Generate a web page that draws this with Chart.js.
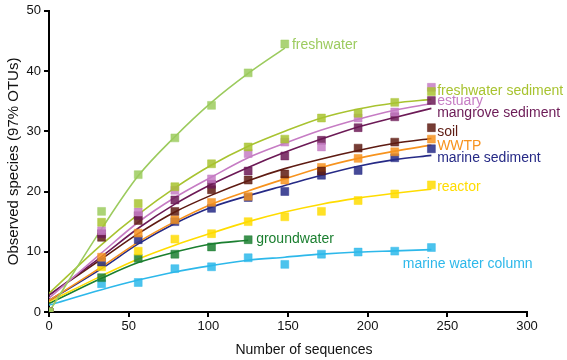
<!DOCTYPE html>
<html>
<head>
<meta charset="utf-8">
<script src="https://cdn.jsdelivr.net/npm/chart.js@4/dist/chart.umd.min.js"></script>
<style>
  html, body { margin: 0; padding: 0; background: #ffffff; }
  #wrap { width: 567px; height: 360px; position: relative; }
</style>
</head>
<body>
<div id="wrap"><canvas id="c" width="567" height="360"></canvas></div>
<script>
// ---- data ----
const sampleSizes = [0, 33, 56, 79, 102, 125, 148, 171, 194, 217, 240];

const seriesNames = ['freshwater', 'freshwater sediment', 'estuary', 'mangrove sediment', 'soil',
                     'WWTP', 'marine sediment', 'reactor', 'groundwater', 'marine water column'];

const freshwater          = [0, 16.7, 22.8, 28.9, 34.3, 39.7, 44.5];
const freshwaterSediment  = [0, 14.9, 18.0, 20.8, 24.6, 27.4, 28.7, 32.2, 33.0, 34.8, 36.6];
const estuary             = [0, 13.5, 16.6, 20.2, 22.1, 26.3, 28.2, 27.4, 32.2, 33.2, 37.3];
const mangroveSediment    = [0, 13.0, 16.0, 18.6, 21.2, 23.4, 25.9, 28.5, 30.6, 32.4, 35.1];
const soil                = [0, 12.4, 15.2, 16.7, 20.3, 21.9, 22.9, 23.4, 27.2, 28.2, 30.6];
const wwtp                = [0, 9.1, 13.1, 15.3, 18.2, 19.2, 21.9, 24.0, 25.5, 26.6, 28.7];
const marineSediment      = [0, 8.3, 12.0, 15.0, 17.2, 19.0, 20.0, 22.7, 23.5, 25.6, 27.1];
const reactor             = [0, 7.5, 10.1, 12.1, 13.0, 15.0, 15.8, 16.7, 18.5, 19.6, 21.1];
const groundwater         = [0, 5.7, 8.9, 9.6, 10.8, 12.0];
const marineWaterColumn   = [0, 4.7, 4.9, 7.2, 7.5, 9.0, 7.9, 9.6, 9.95, 10.1, 10.7];

// fitted rarefaction curves at the same sample sizes
const freshwaterFit          = [0, 13.8, 22.6, 29.1, 34.8, 39.6, 43.8];
const freshwaterSedimentFit  = [3.1, 11.2, 16.2, 20.6, 24.4, 27.5, 30.0, 32.2, 33.7, 34.7, 35.3];
const estuaryFit             = [2.3, 9.8, 14.9, 19.0, 22.4, 25.6, 28.0, 30.2, 32.0, 33.5, 34.6];
const mangroveSedimentFit    = [2.8, 9.2, 13.9, 17.9, 21.2, 24.0, 26.5, 28.7, 30.7, 32.3, 33.8];
const soilFit                = [2.8, 8.8, 13.0, 16.6, 19.4, 21.8, 23.8, 25.4, 26.8, 28.0, 28.8];
const wwtpFit                = [1.9, 7.5, 11.6, 15.0, 17.9, 20.1, 22.1, 24.0, 25.5, 26.7, 27.7];
const marineSedimentFit      = [1.9, 7.2, 11.3, 14.7, 17.4, 19.3, 21.0, 22.7, 24.2, 25.3, 26.0];
const reactorFit             = [1.7, 6.0, 8.8, 11.1, 13.1, 15.0, 16.6, 17.9, 18.9, 19.7, 20.4];
const groundwaterFit         = [1.4, 5.6, 8.2, 9.95, 11.3, 11.9];
const marineWaterColumnFit   = [1.15, 3.7, 5.3, 6.65, 7.7, 8.6, 9.1, 9.6, 9.95, 10.15, 10.35];

const xTicks = [0, 50, 100, 150, 200, 250, 300];
const yTicks = [0, 10, 20, 30, 40, 50];

const xTitle = 'Number of sequences';
const yTitle = 'Observed species (97% OTUs)';

// label anchor points (data coordinates) for the in-plot series names
const labelX = [152.5, 243.6, 243.6, 243.6, 243.6, 243.6, 243.6, 243.6, 130, 222];
const labelY = [44.3, 36.7, 35.0, 33.05, 29.9, 27.6, 25.6, 20.7, 12.05, 8.0];
const xTitleAnchor = 160; // data x where the axis title is centred in the reference

// ---- styling ----
const colors = ['#9ccb5e', '#a8c330', '#c67cc4', '#6c1a56', '#5e1b12',
                '#f7931e', '#262a86', '#ffdc00', '#1b7f30', '#2db8ea'];
const observed = [freshwater, freshwaterSediment, estuary, mangroveSediment, soil,
                  wwtp, marineSediment, reactor, groundwater, marineWaterColumn];
const fitted = [freshwaterFit, freshwaterSedimentFit, estuaryFit, mangroveSedimentFit, soilFit,
                wwtpFit, marineSedimentFit, reactorFit, groundwaterFit, marineWaterColumnFit];

function toPoints(vals) { return vals.map((v, i) => ({ x: sampleSizes[i], y: v })); }
function alpha(hex, a) {
  const n = parseInt(hex.slice(1), 16);
  return `rgba(${(n >> 16) & 255},${(n >> 8) & 255},${n & 255},${a})`;
}

const datasets = [];
seriesNames.forEach((name, i) => {
  datasets.push({
    type: 'scatter', label: name + ' (observed)', data: toPoints(observed[i]),
    pointStyle: 'rect', pointRadius: 5.6, backgroundColor: alpha(colors[i], 0.85),
    borderColor: alpha(colors[i], 0.9), borderWidth: 0.5, showLine: false, order: 1
  });
  datasets.push({
    type: 'line', label: name + ' (fit)', data: toPoints(fitted[i]),
    borderColor: colors[i], borderWidth: 1.6, pointRadius: 0, fill: false,
    cubicInterpolationMode: 'monotone', order: 2
  });
});

const FONT = '"Liberation Sans", Arial, sans-serif';

const labelPlugin = {
  id: 'seriesLabels',
  afterDatasetsDraw(chart) {
    const { ctx, scales } = chart;
    ctx.save();
    ctx.font = '14px ' + FONT;
    ctx.textAlign = 'left';
    ctx.textBaseline = 'middle';
    seriesNames.forEach((name, i) => {
      ctx.fillStyle = colors[i];
      ctx.fillText(name, scales.x.getPixelForValue(labelX[i]), scales.y.getPixelForValue(labelY[i]));
    });
    // x axis title
    ctx.fillStyle = '#111';
    ctx.textAlign = 'center';
    ctx.fillText(xTitle, scales.x.getPixelForValue(xTitleAnchor), scales.x.bottom - 10);
    ctx.restore();
  }
};

const tickFont = { family: FONT, size: 13 };

new Chart(document.getElementById('c'), {
  data: { datasets },
  options: {
    responsive: false,
    animation: false,
    layout: { padding: { left: 5, right: 40, top: 9, bottom: 0 } },
    plugins: { legend: { display: false }, tooltip: { enabled: false } },
    scales: {
      x: {
        type: 'linear', min: 0, max: 300,
        afterBuildTicks: s => { s.ticks = xTicks.map(v => ({ value: v })); },
        afterFit: s => { s.height = 48; },
        border: { display: true, color: '#000', width: 2 },
        grid: { display: true, drawOnChartArea: false, drawTicks: true, tickLength: 5, color: '#000', lineWidth: 2 },
        ticks: { color: '#111', font: tickFont, padding: 2, maxRotation: 0 },
        title: { display: false }
      },
      y: {
        type: 'linear', min: 0, max: 50,
        afterBuildTicks: s => { s.ticks = yTicks.map(v => ({ value: v })); },
        afterFit: s => { s.width = 44; },
        border: { display: true, color: '#000', width: 2 },
        grid: { display: true, drawOnChartArea: false, drawTicks: true, tickLength: 5, color: '#000', lineWidth: 2 },
        ticks: { color: '#111', font: tickFont, padding: 3 },
        title: { display: true, text: yTitle, color: '#111', font: { family: FONT, size: 15 }, padding: 0 }
      }
    }
  },
  plugins: [labelPlugin]
});
</script>
</body>
</html>
